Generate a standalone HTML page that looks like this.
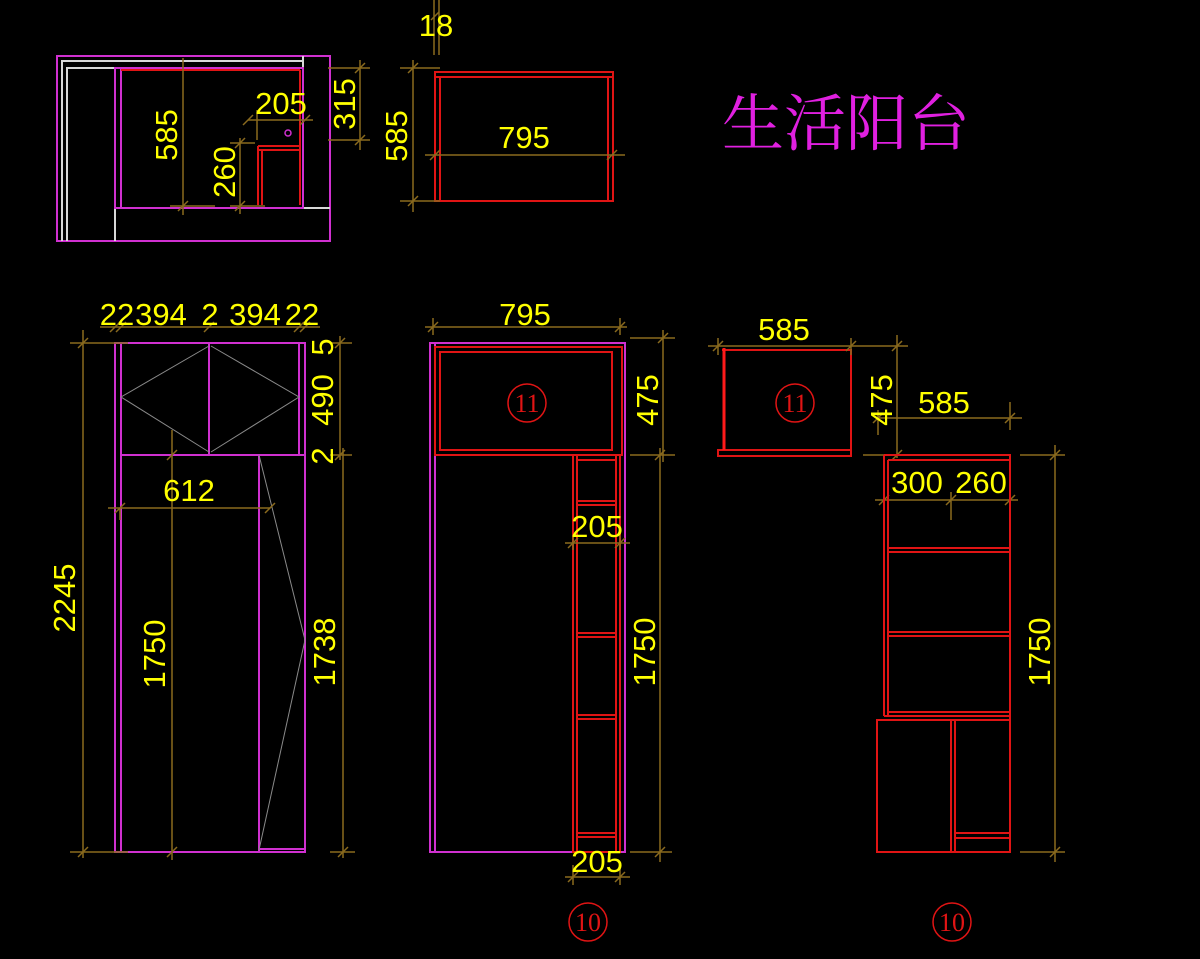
<!DOCTYPE html>
<html><head><meta charset="utf-8"><style>
html,body{margin:0;padding:0;background:#000;}
svg{display:block;}
.m{stroke:#d030d0;fill:none;stroke-width:2}
.r{stroke:#e01414;fill:none;stroke-width:2}
.w{stroke:#d8d8d8;fill:none;stroke-width:2}
.g{stroke:#8a8a8a;fill:none;stroke-width:1}
.d{stroke:#8a6a1e;fill:none;stroke-width:1.5}
.t{fill:#ffff00;font-family:"Liberation Sans",sans-serif;font-size:31px;}
.c{fill:#e01414;font-family:"Liberation Serif",serif;font-size:26px;}
</style></head><body>
<svg width="1200" height="959" viewBox="0 0 1200 959" xmlns="http://www.w3.org/2000/svg">
<rect width="1200" height="959" fill="#000"/>

<rect class="m" x="57" y="56" width="273" height="185"/>
<path class="w" d="M62 241 V61 H303 M67 241 V68 H303 M115 208 V241 M303 56 V208 H330"/>
<rect class="m" x="115" y="68" width="188" height="140"/>
<line class="m" x1="121" y1="68" x2="121" y2="208"/>
<line class="r" x1="121" y1="70" x2="300" y2="70"/>
<path class="r" d="M300 70 V205 M258 146 H300 M258 150 H300 M258 146 V205 M262 150 V205"/>
<circle cx="288" cy="133" r="3" fill="none" stroke="#d030d0" stroke-width="1.5"/>
<path class="d" d="M183 58 V215 M170 206 H215 M240 138 V214 M230 143 H255 M230 206 H265 M248 120 H313 M257 110 V140 M328 68 H370 M328 140 H370 M360 60 V150"/>
<path class="d" d="M178 211 l10 -10 M235 148 l10 -10 M235 211 l10 -10 M243 125 l10 -10 M300 125 l10 -10 M355 73 l10 -10 M355 145 l10 -10"/>
<text class="t" transform="translate(177,135) rotate(-90)" text-anchor="middle">585</text>
<text class="t" transform="translate(235,172) rotate(-90)" text-anchor="middle">260</text>
<text class="t" x="281" y="114" text-anchor="middle">205</text>
<text class="t" transform="translate(355,104) rotate(-90)" text-anchor="middle">315</text>

<rect class="r" x="435" y="72" width="178" height="129"/>
<path class="r" d="M435 77 H613 M440 77 V201 M608 77 V201"/>
<path class="d" d="M434 0 V55 M439 0 V55 M400 68 H440 M400 201 H440 M413 60 V212 M425 155 H625"/>
<path class="d" d="M408 73 l10 -10 M408 206 l10 -10 M430 160 l10 -10 M607 160 l10 -10 M431 20 l8 -8"/>
<text class="t" x="436" y="36" text-anchor="middle">18</text>
<text class="t" transform="translate(407,136) rotate(-90)" text-anchor="middle">585</text>
<text class="t" x="524" y="148" text-anchor="middle">795</text>

<text x="722" y="145" fill="#e020e0" font-family="'Noto Serif CJK SC','Noto Sans CJK SC',serif" font-size="62" font-weight="400">生活阳台</text>

<rect class="m" x="115" y="343" width="190" height="509"/>
<path class="m" d="M121 343 V852 M299 343 V455 M209 343 V455 M121 455 H305 M259 455 V852 M259 849 H305"/>
<path class="g" d="M209 346 L121 397 L209 452 M211 346 L299 397 L211 452 M259 455 L305 640 L259 850"/>
<path class="d" d="M100 327 H320 M70 343 H128 M70 852 H128 M83 330 V858 M330 343 H352 M330 455 H352 M340 336 V460 M343 448 V858 M330 852 H355 M108 508 H270 M172 430 V860 M120 508 V520"/>
<path class="d" d="M110 332 l10 -10 M116 332 l10 -10 M204 332 l10 -10 M294 332 l10 -10 M300 332 l10 -10 M78 348 l10 -10 M78 857 l10 -10 M335 348 l10 -10 M335 460 l10 -10 M338 857 l10 -10 M115 513 l10 -10 M265 513 l10 -10 M167 460 l10 -10 M167 857 l10 -10"/>
<text class="t" x="117" y="325" text-anchor="middle">22</text>
<text class="t" x="161" y="325" text-anchor="middle">394</text>
<text class="t" x="210" y="325" text-anchor="middle">2</text>
<text class="t" x="255" y="325" text-anchor="middle">394</text>
<text class="t" x="302" y="325" text-anchor="middle">22</text>
<text class="t" transform="translate(75,598) rotate(-90)" text-anchor="middle">2245</text>
<text class="t" transform="translate(333,347) rotate(-90)" text-anchor="middle">5</text>
<text class="t" transform="translate(333,400) rotate(-90)" text-anchor="middle">490</text>
<text class="t" transform="translate(333,456) rotate(-90)" text-anchor="middle">2</text>
<text class="t" transform="translate(335,652) rotate(-90)" text-anchor="middle">1738</text>
<text class="t" transform="translate(165,654) rotate(-90)" text-anchor="middle">1750</text>
<text class="t" x="189" y="501" text-anchor="middle">612</text>

<rect class="m" x="430" y="343" width="195" height="509"/>
<line class="m" x1="435" y1="343" x2="435" y2="852"/>
<rect class="r" x="435" y="347" width="187" height="108"/>
<rect class="r" x="440" y="352" width="172" height="98"/>
<circle cx="527" cy="403" r="19" fill="none" stroke="#e01414" stroke-width="1.5"/>
<text class="c" x="527" y="412" text-anchor="middle">11</text>
<rect class="r" x="573" y="455" width="47" height="397"/>
<path class="r" d="M577 455 V852 M616 455 V852 M577 460 H616 M577 501 H616 M577 505 H616 M577 633 H616 M577 637 H616 M577 715 H616 M577 719 H616 M577 833 H616 M577 837 H616"/>
<path class="d" d="M425 327 H627 M433 318 V335 M620 318 V335 M630 338 H675 M630 455 H675 M663 330 V462 M660 448 V862 M630 852 H672 M565 543 H630 M573 535 V550 M620 535 V550 M565 877 H630 M573 865 V885 M620 865 V885"/>
<path class="d" d="M428 332 l10 -10 M615 332 l10 -10 M658 343 l10 -10 M655 460 l10 -10 M655 857 l10 -10 M568 548 l10 -10 M615 548 l10 -10 M568 882 l10 -10 M615 882 l10 -10"/>
<text class="t" x="525" y="325" text-anchor="middle">795</text>
<text class="t" transform="translate(658,400) rotate(-90)" text-anchor="middle">475</text>
<text class="t" transform="translate(655,652) rotate(-90)" text-anchor="middle">1750</text>
<text class="t" x="597" y="537" text-anchor="middle">205</text>
<text class="t" x="597" y="872" text-anchor="middle">205</text>
<circle cx="588" cy="922" r="19" fill="none" stroke="#e01414" stroke-width="1.5"/>
<text class="c" x="588" y="931" text-anchor="middle">10</text>

<path class="r" d="M722 350 H851 V456 H718 V450 H851"/>
<line x1="724" y1="348" x2="724" y2="450" stroke="#ff1a1a" stroke-width="3"/>
<circle cx="795" cy="403" r="19" fill="none" stroke="#e01414" stroke-width="1.5"/>
<text class="c" x="795" y="412" text-anchor="middle">11</text>
<path class="d" d="M708 346 H908 M718 338 V355 M851 338 V355 M897 335 V458 M863 455 H908 M876 418 H1022 M878 410 V435 M1010 402 V430 M875 500 H1018 M884 492 V507 M951 492 V520 M1010 492 V507 M1020 455 H1065 M1020 852 H1065 M1055 445 V862"/>
<path class="d" d="M713 351 l10 -10 M846 351 l10 -10 M892 351 l10 -10 M892 460 l10 -10 M873 423 l10 -10 M1005 423 l10 -10 M879 505 l10 -10 M946 505 l10 -10 M1005 505 l10 -10 M1050 460 l10 -10 M1050 857 l10 -10"/>
<text class="t" x="784" y="340" text-anchor="middle">585</text>
<text class="t" transform="translate(892,400) rotate(-90)" text-anchor="middle">475</text>
<text class="t" x="944" y="413" text-anchor="middle">585</text>
<text class="t" x="917" y="493" text-anchor="middle">300</text>
<text class="t" x="981" y="493" text-anchor="middle">260</text>
<text class="t" transform="translate(1050,652) rotate(-90)" text-anchor="middle">1750</text>
<path class="r" d="M884 455 H1010 V720 M884 455 V716 M888 460 H1010 M888 460 V716 M888 548 H1010 M888 552 H1010 M888 632 H1010 M888 636 H1010 M884 716 H1010 M888 712 H1010"/>
<rect class="r" x="877" y="720" width="133" height="132"/>
<path class="r" d="M951 720 V852 M955 720 V852 M955 833 H1010 M955 838 H1010"/>
<circle cx="952" cy="922" r="19" fill="none" stroke="#e01414" stroke-width="1.5"/>
<text class="c" x="952" y="931" text-anchor="middle">10</text>
</svg>
</body></html>
